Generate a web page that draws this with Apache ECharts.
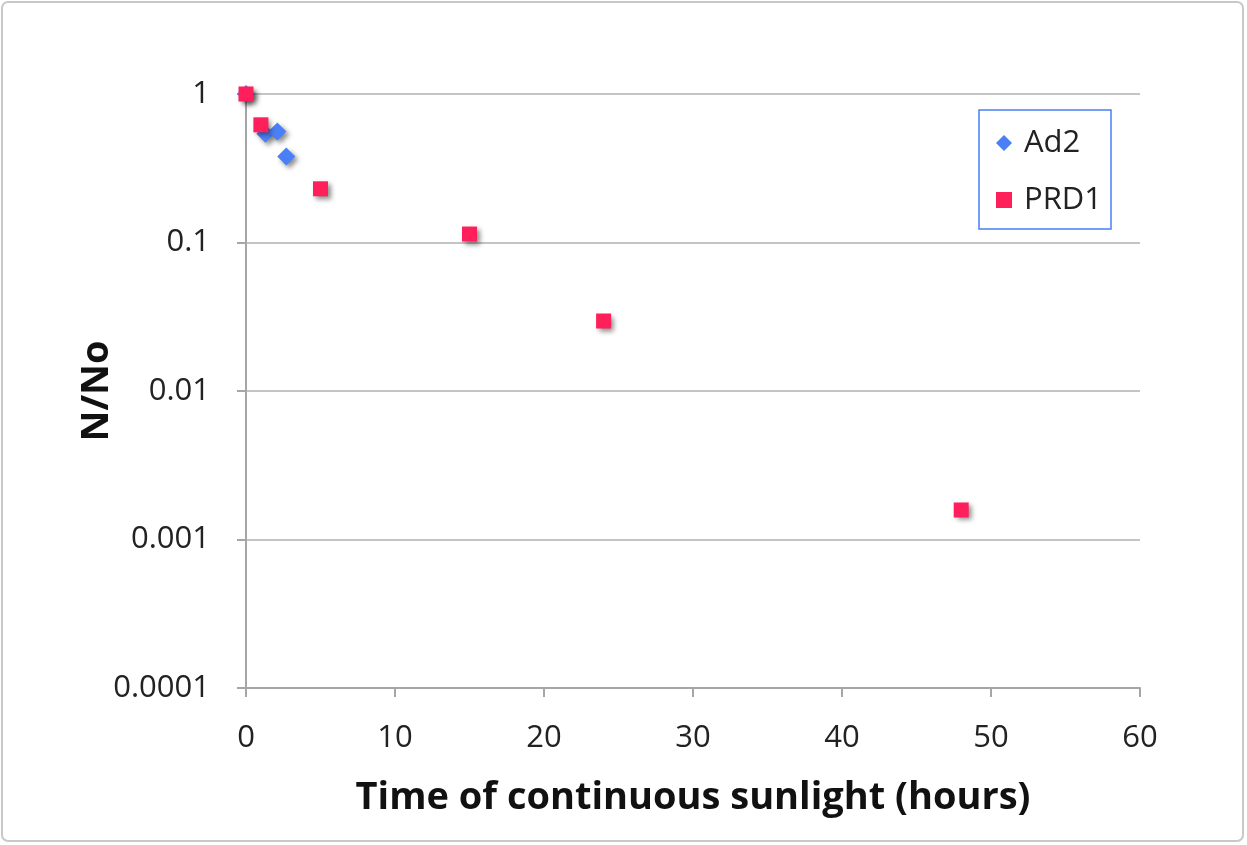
<!DOCTYPE html>
<html>
<head>
<meta charset="utf-8">
<script src="https://cdn.jsdelivr.net/npm/echarts@6/dist/echarts.min.js"></script>
<style>
  html, body { margin: 0; padding: 0; background: #fff; }
  #chart { width: 1247px; height: 845px; }
</style>
</head>
<body>
<div id="chart"></div>
<script>
// Survival ratio N/No versus hours of continuous sunlight
const seriesNames = ['Ad2', 'PRD1'];
const ad2Hours = [0, 1.3, 2.1, 2.7];
const ad2Ratio = [1, 0.54, 0.56, 0.38];
const prd1Hours = [0, 1, 5, 15, 24, 48];
const prd1Ratio = [1, 0.62, 0.23, 0.114, 0.0296, 0.00158];
const yTickLabels = ['0.0001', '0.001', '0.01', '0.1', '1'];
const xTickLabels = ['0', '10', '20', '30', '40', '50', '60'];

const pair = (xs, ys) => xs.map((x, i) => [x, ys[i]]);
const markerShadow = {
  opacity: 1,
  shadowBlur: 5,
  shadowColor: 'rgba(0,0,0,0.45)',
  shadowOffsetX: 3,
  shadowOffsetY: 3
};
const flatLegendIcon = { opacity: 1, shadowBlur: 0, shadowOffsetX: 0, shadowOffsetY: 0 };

const chart = echarts.init(document.getElementById('chart'));
chart.setOption({
  backgroundColor: '#fff',
  animation: false,
  textStyle: { fontFamily: 'Open Sans, Noto Sans, sans-serif' },
  graphic: [{
    type: 'rect',
    shape: { x: 2, y: 2, width: 1241, height: 839, r: 6 },
    style: { fill: 'none', stroke: '#c8c8c8', lineWidth: 2 },
    z: -1
  }],
  grid: { left: 246, right: 107, top: 94, bottom: 157, containLabel: false },
  legend: {
    data: seriesNames.map(name => ({ name, itemStyle: flatLegendIcon })),
    orient: 'vertical',
    left: 979,
    top: 110,
    padding: [17, 9, 13, 17],
    itemGap: 25,
    itemWidth: 16,
    itemHeight: 16,
    borderColor: '#4a7ff5',
    borderWidth: 1.5,
    borderRadius: 0,
    backgroundColor: '#fff',
    textStyle: { fontSize: 31, lineHeight: 32, color: '#222', padding: [0, 0, 0, 7] }
  },
  xAxis: {
    type: 'value',
    min: 0,
    max: 60,
    interval: 10,
    name: 'Time of continuous sunlight (hours)',
    nameLocation: 'middle',
    nameGap: 91,
    nameMoveOverlap: false,
    nameTextStyle: { fontSize: 38, fontWeight: 'bold', color: '#111' },
    axisLine: { show: true, lineStyle: { color: '#a6a6a6', width: 2 } },
    axisTick: { show: true, length: 9, lineStyle: { color: '#a6a6a6', width: 2 } },
    axisLabel: {
      fontSize: 31, color: '#222', margin: 35,
      formatter: v => xTickLabels[Math.round(v / 10)]
    },
    splitLine: { show: false }
  },
  yAxis: {
    type: 'log',
    logBase: 10,
    min: 0.0001,
    max: 1,
    name: 'N/No',
    nameLocation: 'middle',
    nameRotate: 90,
    nameGap: 130,
    nameMoveOverlap: false,
    nameTextStyle: { fontSize: 38, fontWeight: 'bold', color: '#111' },
    axisLine: { show: true, lineStyle: { color: '#a6a6a6', width: 2 } },
    axisTick: { show: true, length: 9, lineStyle: { color: '#a6a6a6', width: 2 } },
    axisLabel: {
      fontSize: 31, color: '#222', margin: 36,
      formatter: v => yTickLabels[Math.round(Math.log10(v)) + 4]
    },
    splitLine: { show: true, lineStyle: { color: '#c4c4c4', width: 2 } }
  },
  series: [
    {
      name: 'Ad2',
      type: 'scatter',
      symbol: 'diamond',
      symbolSize: 18,
      data: pair(ad2Hours, ad2Ratio),
      itemStyle: Object.assign({ color: '#4a7ff5' }, markerShadow),
      z: 2
    },
    {
      name: 'PRD1',
      type: 'scatter',
      symbol: 'rect',
      symbolSize: 15,
      data: pair(prd1Hours, prd1Ratio),
      itemStyle: Object.assign({ color: '#ff1f5a' }, markerShadow),
      z: 3
    }
  ]
});
</script>
</body>
</html>
